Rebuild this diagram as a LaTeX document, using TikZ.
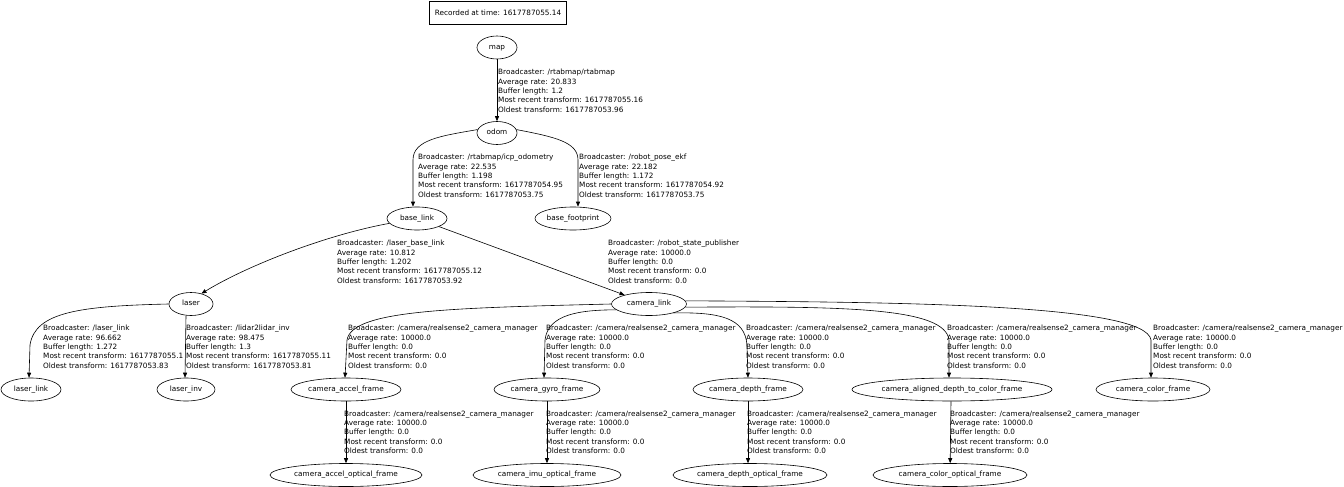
\documentclass[tikz,border=0pt]{standalone}
\usepackage{fontspec}
\setmainfont{DejaVu Sans}
\usetikzlibrary{shapes.geometric,arrows.meta,calc}
\newcommand{\lab}[5]{Broadcaster: #1\\Average rate: #2\\Buffer length: #3\\Most recent transform: #4\\Oldest transform: #5}
\begin{document}
\begin{tikzpicture}[x=1pt,y=-1pt,
  every node/.style={font=\fontsize{7.3}{9.4}\selectfont},
  fr/.style={ellipse,draw,line width=0.6pt,inner sep=0pt,minimum height=23pt,text height=5.3pt,text depth=1.4pt},
  lab/.style={anchor=north west,align=left,inner sep=0pt},
  edge/.style={draw,line width=0.6pt,-{Triangle[length=5pt,width=4pt]}}]
\useasboundingbox (0,0) rectangle (1344,487);
\node[draw,line width=0.6pt,minimum width=137pt,minimum height=23pt,inner sep=0pt] (rec) at (498,13) {Recorded at time: 1617787055.14};
% nodes
\node[fr,minimum width=40pt] (map) at (497,47.5) {map};
\node[fr,minimum width=40pt] (odom) at (497,133) {odom};
\node[fr,minimum width=60pt] (base_link) at (417,218.5) {base\_link};
\node[fr,minimum width=76pt] (base_footprint) at (573,218.5) {base\_footprint};
\node[fr,minimum width=44pt] (laser) at (191,304) {laser};
\node[fr,minimum width=75pt] (camera_link) at (649,304) {camera\_link};
\node[fr,minimum width=60pt] (laser_link) at (31,389.5) {laser\_link};
\node[fr,minimum width=58pt] (laser_inv) at (186,389.5) {laser\_inv};
\node[fr,minimum width=110pt] (accel) at (346,389.5) {camera\_accel\_frame};
\node[fr,minimum width=106pt] (gyro) at (547,389.5) {camera\_gyro\_frame};
\node[fr,minimum width=108pt] (depth) at (748,389.5) {camera\_depth\_frame};
\node[fr,minimum width=200pt] (aligned) at (952,389.5) {camera\_aligned\_depth\_to\_color\_frame};
\node[fr,minimum width=114pt] (color) at (1153,389.5) {camera\_color\_frame};
\node[fr,minimum width=152pt] (accelopt) at (346,475) {camera\_accel\_optical\_frame};
\node[fr,minimum width=148pt] (imuopt) at (547,475) {camera\_imu\_optical\_frame};
\node[fr,minimum width=154pt] (depthopt) at (750,475) {camera\_depth\_optical\_frame};
\node[fr,minimum width=154pt] (coloropt) at (950,475) {camera\_color\_optical\_frame};
% edges
\draw[edge] (map.south) -- (odom.north);
\draw[edge] (odom.170) .. controls (440,136) and (413,140) .. (413,160) -- ([xshift=-4pt]base_link.north);
\draw[edge] (odom.10) .. controls (555,137) and (578,142) .. (578,160) -- ([xshift=5pt]base_footprint.north);
\draw[edge] (base_link.190) .. controls (330,234) and (250,264) .. (laser.45);
\draw[edge] (base_link) -- (camera_link);
\draw[edge] (laser.west) .. controls (80,306) and (35,312) .. (30,345) -- ([xshift=-2pt]laser_link.north);
\draw[edge] ([xshift=-5pt]laser.south) -- ([xshift=-1pt]laser_inv.north);
\draw[edge] (camera_link.west) .. controls (450,308) and (352,310) .. (347,340) -- ([xshift=-1pt]accel.north);
\draw[edge] (camera_link.190) .. controls (580,310) and (548,314) .. (545,340) -- ([xshift=-3pt]gyro.north);
\draw[edge] (camera_link.-20) .. controls (720,312) and (745,318) .. (747,345) -- (depth.north);
\draw[edge] (camera_link.-5) .. controls (850,306) and (945,308) .. (949,340) -- ([xshift=-3pt]aligned.north);
\draw[edge] (camera_link.5) .. controls (900,302) and (1146,304) .. (1151,340) -- ([xshift=-2pt]color.north);
\draw[edge] (accel) -- (accelopt);
\draw[edge] (gyro) -- (imuopt);
\draw[edge] (depth) -- ([xshift=-2pt]depthopt.north);
\draw[edge] ([xshift=-1pt]aligned.south) -- (coloropt);
% labels
\node[lab] (l1) at (498,69) {\lab{/rtabmap/rtabmap}{20.833}{1.2}{1617787055.16}{1617787053.96}};
\node[lab] (l2) at (418,154) {\lab{/rtabmap/icp\_odometry}{22.535}{1.198}{1617787054.95}{1617787053.75}};
\node[lab] (l3) at (579,154) {\lab{/robot\_pose\_ekf}{22.182}{1.172}{1617787054.92}{1617787053.75}};
\node[lab] (l4) at (337,240) {\lab{/laser\_base\_link}{10.812}{1.202}{1617787055.12}{1617787053.92}};
\node[lab] (l5) at (608,240) {\lab{/robot\_state\_publisher}{10000.0}{0.0}{0.0}{0.0}};
\node[lab] (l6) at (43,325) {\lab{/laser\_link}{96.662}{1.272}{1617787055.1}{1617787053.83}};
\node[lab] (l7) at (186,325) {\lab{/lidar2lidar\_inv}{98.475}{1.3}{1617787055.11}{1617787053.81}};
\node[lab] (l8) at (348,325) {\lab{/camera/realsense2\_camera\_manager}{10000.0}{0.0}{0.0}{0.0}};
\node[lab] (l9) at (546,325) {\lab{/camera/realsense2\_camera\_manager}{10000.0}{0.0}{0.0}{0.0}};
\node[lab] (l10) at (746,325) {\lab{/camera/realsense2\_camera\_manager}{10000.0}{0.0}{0.0}{0.0}};
\node[lab] (l11) at (947,325) {\lab{/camera/realsense2\_camera\_manager}{10000.0}{0.0}{0.0}{0.0}};
\node[lab] (l12) at (1153,325) {\lab{/camera/realsense2\_camera\_manager}{10000.0}{0.0}{0.0}{0.0}};
\node[lab] (l13) at (344,410.3) {\lab{/camera/realsense2\_camera\_manager}{10000.0}{0.0}{0.0}{0.0}};
\node[lab] (l14) at (546,410.3) {\lab{/camera/realsense2\_camera\_manager}{10000.0}{0.0}{0.0}{0.0}};
\node[lab] (l15) at (747,410.3) {\lab{/camera/realsense2\_camera\_manager}{10000.0}{0.0}{0.0}{0.0}};
\node[lab] (l16) at (950,410.3) {\lab{/camera/realsense2\_camera\_manager}{10000.0}{0.0}{0.0}{0.0}};
\end{tikzpicture}
\end{document}
